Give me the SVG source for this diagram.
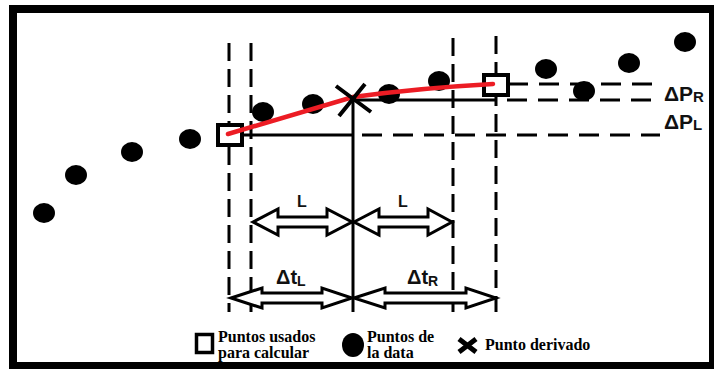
<svg xmlns="http://www.w3.org/2000/svg" width="714" height="369" viewBox="0 0 714 369">
<defs>
<style>
.dash{stroke:#000;stroke-width:3;fill:none;stroke-dasharray:18 8}
.hdash{stroke:#000;stroke-width:3;fill:none;stroke-dasharray:20 11}
.solid{stroke:#000;stroke-width:3;fill:none}
.dot{fill:#000}
.sq{fill:#fff;stroke:#000;stroke-width:4}
.arr{fill:#fff;stroke:#000;stroke-width:3;stroke-linejoin:miter}
.lbl{font-family:"Liberation Sans",Arial,sans-serif;font-weight:bold;fill:#111}
.leg{font-family:"Liberation Serif","Times New Roman",serif;font-weight:bold;font-size:16px;fill:#000}
</style>
</defs>
<rect x="0" y="0" width="714" height="369" fill="#fff"/>
<rect x="13" y="9" width="700" height="357" fill="none" stroke="#000" stroke-width="8"/>

<g id="connectors">
<line class="dash" x1="229" y1="43" x2="229" y2="312"/>
<line class="dash" x1="251" y1="43" x2="251" y2="312"/>
<line class="dash" x1="453" y1="38" x2="453" y2="312"/>
<line class="dash" x1="496" y1="36" x2="496" y2="312"/>
<line class="solid" x1="353" y1="98" x2="353" y2="312"/>
<line class="solid" x1="243" y1="135" x2="353" y2="135"/>
<line class="hdash" x1="362" y1="135" x2="660" y2="135"/>
<line class="solid" x1="353" y1="100" x2="497" y2="100"/>
<line class="hdash" x1="507" y1="100" x2="660" y2="100"/>
<line class="hdash" x1="508" y1="84" x2="660" y2="84"/>
</g>

<g id="data-points">
<ellipse class="dot" cx="44" cy="213" rx="11" ry="10"/>
<ellipse class="dot" cx="76" cy="175" rx="11" ry="10"/>
<ellipse class="dot" cx="132" cy="152" rx="11" ry="10"/>
<ellipse class="dot" cx="190" cy="139" rx="11" ry="10"/>
<ellipse class="dot" cx="263" cy="112" rx="11" ry="10"/>
<ellipse class="dot" cx="313" cy="104" rx="11" ry="10"/>
<ellipse class="dot" cx="389" cy="94" rx="11" ry="10"/>
<ellipse class="dot" cx="439" cy="81" rx="11" ry="10"/>
<ellipse class="dot" cx="546" cy="69" rx="11" ry="10"/>
<ellipse class="dot" cx="584" cy="91" rx="11" ry="10"/>
<ellipse class="dot" cx="629" cy="63" rx="11" ry="10"/>
<ellipse class="dot" cx="685" cy="42" rx="11" ry="10"/>
</g>

<g id="point-left"><rect class="sq" x="218" y="125" width="24" height="20"/></g>
<g id="point-right"><rect class="sq" x="484" y="75" width="24" height="20"/></g>

<g id="derivative-line">
<path d="M228,134 L353,97 Q420,88 493,84" fill="none" stroke="#ec1c24" stroke-width="4.5" stroke-linecap="round"/>
</g>

<g id="derived-point">
<path d="M336,86 L371,112 M365,84 L339,116" stroke="#000" stroke-width="4" fill="none"/>
</g>

<g id="arrow-L-left">
<path class="arr" d="M253,222 L278,209 L278,217 L327,217 L327,209 L352,222 L327,235 L327,227 L278,227 L278,235 Z"/>
<text class="lbl" x="297" y="207" font-size="16">L</text>
</g>
<g id="arrow-L-right">
<path class="arr" d="M354,222 L379,209 L379,217 L428,217 L428,209 L452,222 L428,235 L428,227 L379,227 L379,235 Z"/>
<text class="lbl" x="398" y="207" font-size="16">L</text>
</g>
<g id="arrow-dtL">
<path class="arr" d="M231,298 L262,288 L262,293 L322,293 L322,288 L352,298 L322,308 L322,303 L262,303 L262,308 Z"/>
<text class="lbl" x="276" y="284" font-size="20">Δt<tspan font-size="14" dy="2">L</tspan></text>
</g>
<g id="arrow-dtR">
<path class="arr" d="M354,298 L385,288 L385,293 L466,293 L466,288 L496,298 L466,308 L466,303 L385,303 L385,308 Z"/>
<text class="lbl" x="407" y="284" font-size="20">Δt<tspan font-size="14" dy="2">R</tspan></text>
</g>

<g id="label-dPR"><text class="lbl" x="664" y="101" font-size="21">ΔP<tspan font-size="15" dy="1">R</tspan></text></g>
<g id="label-dPL"><text class="lbl" x="664" y="129" font-size="21">ΔP<tspan font-size="15" dy="1">L</tspan></text></g>

<g id="legend">
<rect x="196.5" y="334.5" width="16" height="18" fill="#fff" stroke="#000" stroke-width="3.5"/>
<text class="leg" x="218" y="342">Puntos usados</text>
<text class="leg" x="218" y="358">para calcular</text>
<ellipse cx="353" cy="345" rx="11" ry="12" fill="#000"/>
<text class="leg" x="367" y="342">Puntos de</text>
<text class="leg" x="367" y="358">la data</text>
<path d="M459,339 L476,352 M476,339 L459,352" stroke="#000" stroke-width="5" fill="none"/>
<text class="leg" x="485" y="350">Punto derivado</text>
</g>
</svg>
